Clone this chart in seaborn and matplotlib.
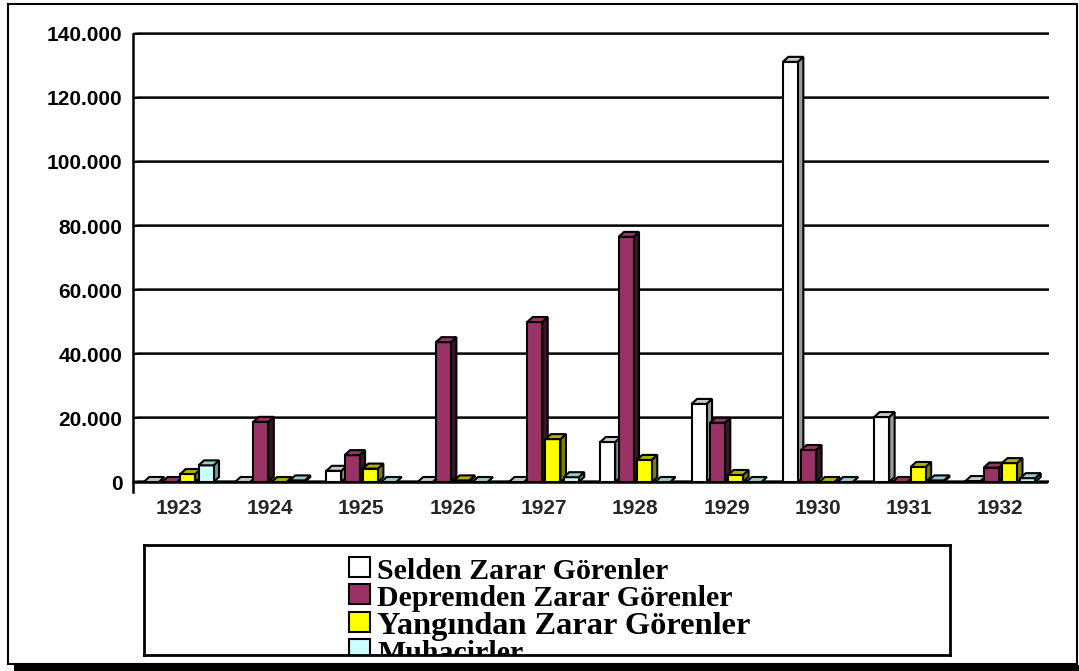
import numpy as np
import pandas as pd
import matplotlib
matplotlib.use("Agg")
import matplotlib.pyplot as plt
import seaborn as sns
from matplotlib.patches import Polygon, Rectangle

# ---------------- data ----------------
years = ["1923", "1924", "1925", "1926", "1927", "1928", "1929", "1930", "1931", "1932"]
series = ["Selden Zarar Görenler", "Depremden Zarar Görenler",
          "Yangından Zarar Görenler", "Muhacirler"]
selden = [0, 0, 3500, 0, 0, 12500, 24400, 131300, 20300, 300]
deprem = [0, 18800, 8400, 43700, 50000, 76600, 18500, 10000, 0, 4500]
yangin = [2500, 0, 4200, 500, 13400, 6900, 2200, 0, 4700, 5900]
muhacir = [5200, 500, 0, 0, 1500, 0, 0, 0, 500, 1200]
yticks = [0, 20000, 40000, 60000, 80000, 100000, 120000, 140000]

front_colors = ["#FFFFFF", "#993366", "#FFFF00", "#CCFFFF"]
side_colors = ["#999999", "#3d1428", "#808000", "#669999"]
top_colors = ["#c8c8c8", "#993366", "#b0b000", "#99cccc"]
legend_sizes = [21.5, 21.5, 23.3, 21.5]

df = pd.DataFrame({
    "year": years * 4,
    "value": selden + deprem + yangin + muhacir,
    "series": np.repeat(series, len(years)),
})

W, H = 1079, 671
sns.set_style("white")
plt.rcParams["font.family"] = ["Liberation Sans", "DejaVu Sans"]

fig = plt.figure(figsize=(W / 100, H / 100), dpi=100)

# axes placement in pixels
x_left, x_right = 133, 1046
y_top, y_bot = 34, 491.6
ax = fig.add_axes([x_left / W, (H - y_bot) / H, (x_right - x_left) / W, (y_bot - y_top) / H])

sns.barplot(data=df, x="year", y="value", hue="series", hue_order=series,
            palette=front_colors, saturation=1, width=0.8, gap=0.18,
            edgecolor="black", linewidth=1.5, ax=ax, legend=False)

ax.set_xlim(-0.5, 9.5)
ax.set_ylim(-3000, 140000)
px_x = 1.0 / ((x_right - x_left) / 10.0)       # data units per px (x)
px_y = 143000.0 / (y_bot - y_top)              # data units per px (y)
dx, dy = 5.5 * px_x, 5 * px_y

# 3D faces, drawn left to right so later bars overlap earlier sides
bars = []
for h, cont in enumerate(ax.containers):
    for b in cont:
        bars.append((b.get_x(), h, b))
bars.sort(key=lambda t: t[0])
for k, (x0, h, b) in enumerate(bars):
    z = 3 + k * 0.01
    w = b.get_width()
    hv = b.get_height()
    x1 = x0 + w
    b.set_zorder(z + 0.005)
    side = Polygon([(x1, 0), (x1 + dx, dy), (x1 + dx, hv + dy), (x1, hv)],
                   closed=True, fc=side_colors[h], ec="black", lw=1.5, zorder=z)
    top = Polygon([(x0, hv), (x0 + dx, hv + dy), (x1 + dx, hv + dy), (x1, hv)],
                  closed=True, fc=top_colors[h], ec="black", lw=1.5, zorder=z + 0.006)
    ax.add_patch(side)
    ax.add_patch(top)

# gridlines on the back wall
for v in yticks:
    ax.plot([-0.5, -0.5 + dx, 9.5 + 3 * px_x], [v, v + 0.4 * px_y, v + 0.4 * px_y],
            color="black", lw=1.8, zorder=1, clip_on=False, solid_capstyle="butt")

# spines / ticks
for s in ["top", "right"]:
    ax.spines[s].set_visible(False)
ax.spines["bottom"].set_position(("data", 0))
ax.spines["bottom"].set_zorder(2)
for s in ["left", "bottom"]:
    ax.spines[s].set_linewidth(1.8)
    ax.spines[s].set_color("black")

ax.set_yticks(yticks)
ax.set_yticklabels([f"{v:,}".replace(",", ".") for v in yticks])
ax.tick_params(axis="y", direction="out", length=4.5, width=1.5, pad=3,
               labelsize=15, colors="black")

ax.set_xticks(np.arange(-0.5, 10, 1.0))
ax.set_xticklabels([])
ax.set_xticks(np.arange(10), minor=True)
ax.set_xticklabels(years, minor=True)
ax.tick_params(axis="x", which="major", direction="out", length=7, width=1.5)
ax.tick_params(axis="x", which="minor", length=0, pad=12.5, labelsize=15)
for lab in ax.get_yticklabels() + ax.get_xticklabels(minor=True):
    lab.set_fontweight("bold")
ax.set_xlabel("")
ax.set_ylabel("")
ax.patch.set_alpha(0)

# ---------------- legend box (clipped like the original) ----------------
lx0, ly0, lx1, ly1 = 144, 545, 950, 655
lax = fig.add_axes([lx0 / W, (H - ly1) / H, (lx1 - lx0) / W, (ly1 - ly0) / H])
lax.set_xlim(0, lx1 - lx0)
lax.set_ylim(ly1 - ly0, 0)
lax.set_xticks([])
lax.set_yticks([])
for s in lax.spines.values():
    s.set_linewidth(2)
    s.set_color("black")
for i, (name, col, fs) in enumerate(zip(series, front_colors, legend_sizes)):
    top_y = 557 - ly0 + i * 27.3
    lax.add_patch(Rectangle((349 - lx0, top_y), 21, 20, fc=col, ec="black", lw=1.5,
                            clip_on=True))
    lax.text(377 - lx0, top_y + 22, name, fontsize=fs, fontweight="bold",
             family=["Liberation Serif", "DejaVu Serif"], va="baseline", ha="left",
             clip_on=True, color="black")

# ---------------- outer frame with shadow ----------------
fig.add_artist(Rectangle((8 / W, (H - 664) / H), (1077 - 8) / W, (664 - 4) / H,
                         transform=fig.transFigure, fill=False, ec="black", lw=1.5))
fig.add_artist(Rectangle((14 / W, 0), (W - 14) / W, 6 / H, transform=fig.transFigure,
                         fc="black", ec="none"))

fig.savefig("out.png", dpi=100, facecolor="white")
